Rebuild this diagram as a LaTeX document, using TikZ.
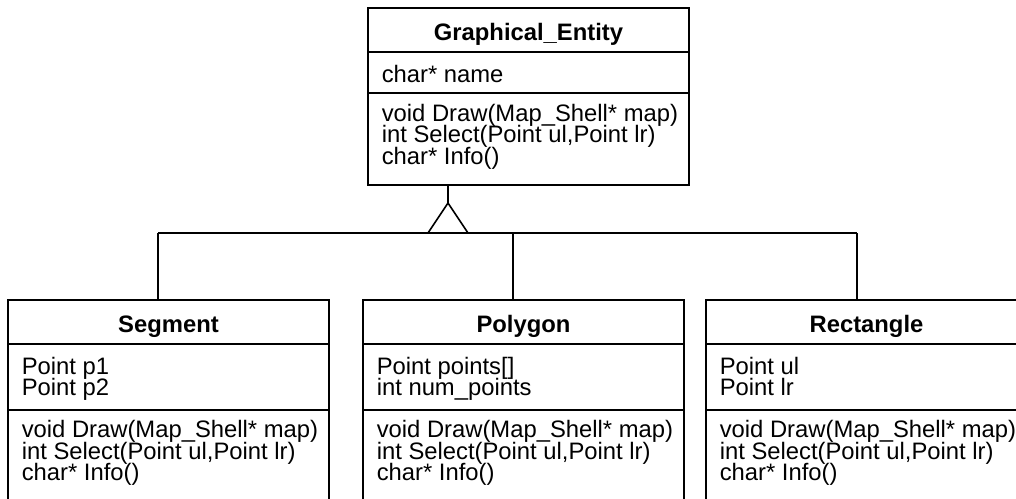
\documentclass[tikz,border=0pt]{standalone}
\usepackage{fontspec}
\setmainfont{Liberation Sans}
\newcommand{\umllines}[1]{\vtop{\baselineskip=21.5pt\lineskiplimit=-\maxdimen\lineskip=0pt #1}}
\begin{document}
\begin{tikzpicture}[x=1pt,y=-1pt,line width=1.6pt,
  box/.style={draw, inner sep=0pt, outer sep=0pt, anchor=north west, minimum width=321pt},
  txt/.style={anchor=base west, inner sep=0pt, font=\fontsize{23.8}{21.5}\selectfont},
  ttl/.style={anchor=base, inner sep=0pt, font=\fontsize{23.8}{21.5}\selectfont\bfseries}]
\clip (0,0) rectangle (1016,498);
\fill[white] (0,0) rectangle (1016,498);

% --- Graphical_Entity ---
\node[box, minimum height=177pt] (ge) at (368,8) {};
\draw ([yshift=-44pt]ge.north west) -- ([yshift=-44pt]ge.north east);
\draw ([yshift=-85pt]ge.north west) -- ([yshift=-85pt]ge.north east);
\node[ttl] (geT) at (528.5,40) {Graphical\_Entity};
\node[txt] (geA) at (381,82) {char* name};
\node[txt] (geM) at (381,121) {\umllines{\hbox{void Draw(Map\_Shell* map)}\hbox{int Select(Point ul,Point lr)}\hbox{char* Info()}}};

% --- Segment ---
\node[box, minimum height=220pt] (seg) at (8,300) {};
\draw ([yshift=-44pt]seg.north west) -- ([yshift=-44pt]seg.north east);
\draw ([yshift=-110pt]seg.north west) -- ([yshift=-110pt]seg.north east);
\node[ttl] (segT) at (168.5,332) {Segment};
\node[txt] (segA) at (21,374) {\umllines{\hbox{Point p1}\hbox{Point p2}}};
\node[txt] (segM) at (21,437.5) {\umllines{\hbox{void Draw(Map\_Shell* map)}\hbox{int Select(Point ul,Point lr)}\hbox{char* Info()}}};

% --- Polygon ---
\node[box, minimum height=220pt] (pol) at (363,300) {};
\draw ([yshift=-44pt]pol.north west) -- ([yshift=-44pt]pol.north east);
\draw ([yshift=-110pt]pol.north west) -- ([yshift=-110pt]pol.north east);
\node[ttl] (polT) at (523.5,332) {Polygon};
\node[txt] (polA) at (376,374) {\umllines{\hbox{Point points[]}\hbox{int num\_points}}};
\node[txt] (polM) at (376,437.5) {\umllines{\hbox{void Draw(Map\_Shell* map)}\hbox{int Select(Point ul,Point lr)}\hbox{char* Info()}}};

% --- Rectangle ---
\node[box, minimum height=220pt] (rec) at (706,300) {};
\draw ([yshift=-44pt]rec.north west) -- ([yshift=-44pt]rec.north east);
\draw ([yshift=-110pt]rec.north west) -- ([yshift=-110pt]rec.north east);
\node[ttl] (recT) at (866.5,332) {Rectangle};
\node[txt] (recA) at (719,374) {\umllines{\hbox{Point ul}\hbox{Point lr}}};
\node[txt] (recM) at (719,437.5) {\umllines{\hbox{void Draw(Map\_Shell* map)}\hbox{int Select(Point ul,Point lr)}\hbox{char* Info()}}};

% --- generalization connector ---
\coordinate (apex) at (448,203);
\coordinate (tl) at (428,233);
\coordinate (tr) at (468,233);
\coordinate (busL) at (158,233);
\coordinate (busR) at (857,233);
\coordinate (busM) at (513,233);
\draw (apex |- ge.south) -- (apex);
\draw (apex) -- (tl) -- (tr) -- cycle;
\draw (busL) -- (tl);
\draw (tr) -- (busR);
\draw (busL) -- (busL |- seg.north);
\draw (busM) -- (busM |- pol.north);
\draw (busR) -- (busR |- rec.north);
\end{tikzpicture}
\end{document}
